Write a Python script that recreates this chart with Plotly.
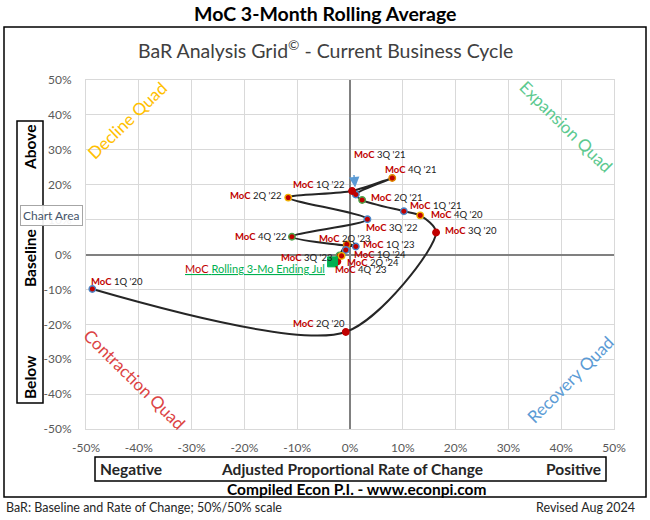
import plotly.graph_objects as go

# ---------------- data ----------------
quarters = ["1Q '20", "2Q '20", "3Q '20", "4Q '20", "1Q '21", "2Q '21", "3Q '21", "4Q '21",
            "1Q '22", "2Q '22", "3Q '22", "4Q '22", "1Q '23", "2Q '23", "3Q '23", "4Q '23",
            "1Q '24", "2Q '24"]
rate_of_change = [-48.8, -0.8, 16.3, 13.3, 10.2, 2.3, 1.1, 8.0,
                  0.4, -11.7, 3.3, -11.0, 1.1, -0.6, -2.0, -2.4,
                  -0.8, -1.6]
baseline = [-9.9, -22.2, 6.3, 11.2, 12.4, 15.6, 17.2, 21.9,
            18.2, 16.3, 10.1, 5.1, 2.3, 2.9, -0.3, -2.0,
            1.3, -0.4]
latest_label = "Rolling 3-Mo Ending Jul"
latest_rate = -3.3
latest_base = -2.1

tick_vals = [-50, -40, -30, -20, -10, 0, 10, 20, 30, 40, 50]
tick_text = ["-50%", "-40%", "-30%", "-20%", "-10%", "0%", "10%", "20%", "30%", "40%", "50%"]

# ---------------- styles ----------------
FONT = "Lato, Carlito, Calibri, sans-serif"
DARKRED = "#C00000"
ring_colors = ["#4A86C8", DARKRED, DARKRED, "#F0B400", "#4A86C8", "#4CA64C", "#4A86C8", "#E08A00",
               DARKRED, "#F0B400", "#4A86C8", "#4CA64C", "#4A86C8", "#E08A00", "#4CA64C", DARKRED,
               "#4A86C8", "#F0B400"]
# label placement: (xanchor, dx px, dy px (down positive))
label_pos = {
    "1Q '20": ("left", -3, -7.6),
    "2Q '20": ("right", 1, -8.3),
    "3Q '20": ("left", 7, -2.5),
    "4Q '20": ("left", 9, -1),
    "1Q '21": ("left", 4, -6),
    "2Q '21": ("left", 7, -3),
    "3Q '21": ("left", -4, -39.5),
    "4Q '21": ("left", -9, -8.7),
    "1Q '22": ("right", -6.5, -6.7),
    "2Q '22": ("right", -5, -2.6),
    "3Q '22": ("left", -3.4, 8),
    "4Q '22": ("right", -3.6, 0),
    "1Q '23": ("left", 5, -2),
    "2Q '23": ("center", -2, -6),
    "3Q '23": ("right", -5, 2),
    "4Q '23": ("left", -4.6, 8.5),
    "1Q '24": ("left", 6, 5),
    "2Q '24": ("left", 3.4, 6.4),
}

# plot area in pixels
L, R, T, B = 86, 36, 80, 91
W, H = 650, 520
PW, PH = W - L - R, H - T - B


def px(x):
    return (x - L) / PW


def py(y):
    return (H - B - y) / PH


fig = go.Figure()

# path line
fig.add_trace(go.Scatter(
    x=rate_of_change + [latest_rate], y=baseline + [latest_base],
    mode="lines", line=dict(color="#262626", width=2, shape="spline", smoothing=0.8),
    hoverinfo="skip", showlegend=False))

# quarterly points
fig.add_trace(go.Scatter(
    x=rate_of_change, y=baseline, mode="markers",
    marker=dict(size=6.5, color=DARKRED, line=dict(color=ring_colors, width=1.4)),
    text=quarters, hoverinfo="text", showlegend=False))

# latest point
fig.add_trace(go.Scatter(
    x=[latest_rate], y=[latest_base], mode="markers",
    marker=dict(size=10, symbol="square", color="#00B050", line=dict(color="#00B050", width=1)),
    showlegend=False, hoverinfo="skip"))

ann = []
for q, xv, yv in zip(quarters, rate_of_change, baseline):
    xa, dx, dy = label_pos[q]
    ann.append(dict(
        x=xv, y=yv, xref="x", yref="y", showarrow=False,
        text=f"<b><span style='color:{DARKRED}'>MoC</span></b> <span style='color:#1a1a1a'>{q}</span>",
        font=dict(family=FONT, size=9.5, color="black"),
        xanchor=xa, yanchor="middle", xshift=dx, yshift=-dy))

# arrow for 3Q '21
i3 = quarters.index("3Q '21")
ann.append(dict(x=rate_of_change[i3], y=baseline[i3], xref="x", yref="y", text="",
                showarrow=True, ax=-2, ay=-21, arrowcolor="#5B9BD5", arrowhead=2,
                arrowsize=1.4, arrowwidth=1.5, standoff=7))

# latest label
ann.append(dict(
    x=latest_rate, y=latest_base, xref="x", yref="y", showarrow=False,
    text=f"<u><span style='color:{DARKRED}'>MoC</span> <span style='color:#00B050'>{latest_label}</span></u>",
    font=dict(family=FONT, size=11, color="#00B050"),
    xanchor="right", yanchor="middle", xshift=-6, yshift=-6.5))

# quadrant labels
quads = [("Decline Quad", 126.7, 120, -44, "#FFC000"),
         ("Expansion Quad", 566, 127, 44.5, "#5CC98F"),
         ("Contraction Quad", 135, 379, 44.5, "#DC4444"),
         ("Recovery Quad", 570, 379, -45, "#5B9BD5")]
for t, cx, cy, ang, col in quads:
    ann.append(dict(x=px(cx), y=py(cy), xref="paper", yref="paper", text=t, showarrow=False,
                    textangle=ang, font=dict(family=FONT, size=17, color=col),
                    xanchor="center", yanchor="middle"))

# titles and frame texts
def ptext(t, x, y, size, color="black", xanchor="center", angle=0):
    ann.append(dict(x=px(x), y=py(y), xref="paper", yref="paper", text=t, showarrow=False,
                    font=dict(family=FONT, size=size, color=color), xanchor=xanchor,
                    yanchor="middle", textangle=angle))

ptext("<b>MoC 3-Month Rolling Average</b>", 325, 14, 19.5)
ptext("BaR Analysis Grid<sup>©</sup> - Current Business Cycle", 325, 50, 19.5, "#404040")
ptext("<b>Above</b>", 30, 148, 15.5, angle=-90)
ptext("<b>Baseline</b>", 30, 258, 15.5, angle=-90)
ptext("<b>Below</b>", 30, 377, 15.5, angle=-90)
ptext("<b>Negative</b>", 98, 469, 15.5, "#262626", xanchor="left")
ptext("<b>Adjusted Proportional Rate of Change</b>", 352, 469, 15.5, "#262626")
ptext("<b>Positive</b>", 603, 469, 15.5, "#262626", xanchor="right")
ptext("<b>Compiled Econ P.I. - www.econpi.com</b>", 356, 489, 15.5)
ptext("BaR: Baseline and Rate of Change; 50%/50% scale", 4, 507, 12.5, "#262626", xanchor="left")
ptext("Revised Aug 2024", 637, 507, 12.5, "#262626", xanchor="right")

# excel tooltip
ann.append(dict(x=px(51.5), y=py(215), xref="paper", yref="paper", text="Chart Area",
                showarrow=False, font=dict(family=FONT, size=12, color="#44546A"),
                bgcolor="rgba(255,255,255,0.92)", bordercolor="#A6A6A6", borderwidth=1,
                borderpad=2, xanchor="center", yanchor="middle"))

shapes = []
def prect(x0, y0, x1, y1, w=1.5):
    shapes.append(dict(type="rect", xref="paper", yref="paper", x0=px(x0), x1=px(x1),
                       y0=py(y1), y1=py(y0), line=dict(color="black", width=w),
                       fillcolor="rgba(0,0,0,0)", layer="below"))

prect(4, 27, 646, 497)
prect(17, 121, 43, 403)
prect(95, 457, 606, 481)

fig.update_layout(
    width=W, height=H, margin=dict(l=L, r=R, t=T, b=B, pad=0),
    paper_bgcolor="white", plot_bgcolor="white",
    font=dict(family=FONT, size=12, color="#595959"),
    annotations=ann, shapes=shapes, showlegend=False,
    xaxis=dict(range=[-50, 50], tickvals=tick_vals, ticktext=tick_text, showgrid=True,
               gridcolor="#D9D9D9", gridwidth=1, zeroline=True, zerolinecolor="#808080",
               zerolinewidth=2, showline=True, linecolor="#D9D9D9", mirror=True,
               ticks="", ticklabelstandoff=8,
               tickfont=dict(family=FONT, size=12, color="#595959"), fixedrange=True),
    yaxis=dict(range=[-50, 50], tickvals=tick_vals, ticktext=tick_text, showgrid=True,
               gridcolor="#D9D9D9", gridwidth=1, zeroline=True, zerolinecolor="#808080",
               zerolinewidth=2, showline=True, linecolor="#D9D9D9", mirror=True,
               ticks="", ticklabelstandoff=11,
               tickfont=dict(family=FONT, size=12, color="#595959"), fixedrange=True),
)

fig.write_html("out.html")
